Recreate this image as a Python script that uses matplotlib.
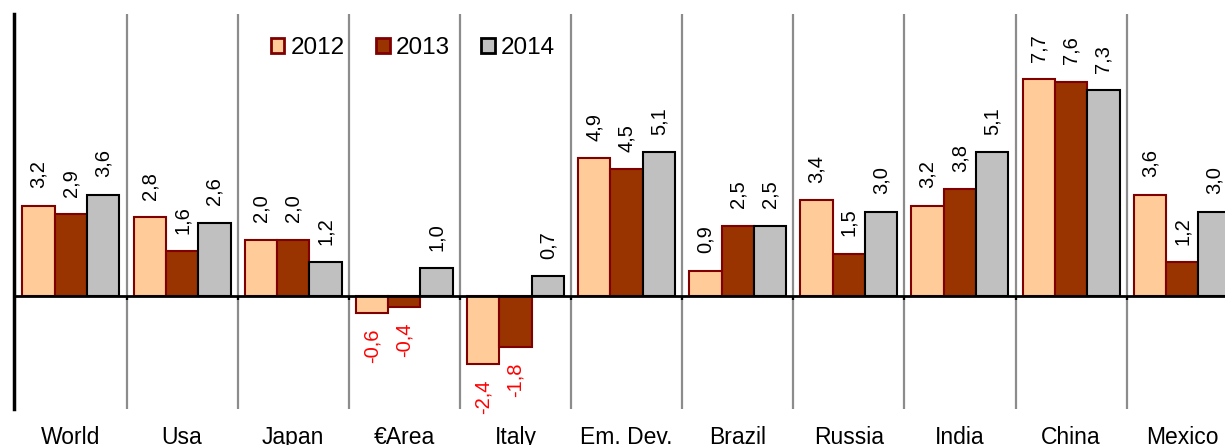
import matplotlib
matplotlib.use("Agg")
import matplotlib.pyplot as plt
from matplotlib.patches import Patch
import numpy as np

plt.rcParams['font.family'] = ['Liberation Sans', 'DejaVu Sans']

categories = ["World", "Usa", "Japan", "€Area", "Italy", "Em. Dev.", "Brazil",
              "Russia", "India", "China", "Mexico"]
years = ["2012", "2013", "2014"]
g2012 = [3.2, 2.8, 2.0, -0.6, -2.4, 4.9, 0.9, 3.4, 3.2, 7.7, 3.6]
g2013 = [2.9, 1.6, 2.0, -0.4, -1.8, 4.5, 2.5, 1.5, 3.8, 7.6, 1.2]
g2014 = [3.6, 2.6, 1.2, 1.0, 0.7, 5.1, 2.5, 3.0, 5.1, 7.3, 3.0]

series = [g2012, g2013, g2014]
fills = ["#FFCC99", "#993300", "#C0C0C0"]
edges = ["#800000", "#800000", "#000000"]

fig = plt.figure(figsize=(12.25, 4.45), dpi=100)
ax = fig.add_axes([14 / 1225, 1 - 409 / 445, 1 - 14 / 1225, (409 - 14) / 445])

x = np.arange(len(categories))
width = 0.291
offsets = [-width, 0.0, width]

for vals, off, fc, ec in zip(series, offsets, fills, edges):
    ax.bar(x + off, vals, width, color=fc, edgecolor=ec, linewidth=1.5, zorder=3)
    for xi, v in zip(x + off, vals):
        label = f"{v:.1f}".replace(".", ",")
        if v >= 0:
            ax.annotate(label, (xi, v), xytext=(0, 12.5), textcoords="offset points",
                        rotation=90, ha="center", va="bottom", fontsize=14.5,
                        color="black", zorder=4)
        else:
            ax.annotate(label, (xi, v), xytext=(0, -11), textcoords="offset points",
                        rotation=90, ha="center", va="top", fontsize=14.5,
                        color="#FF0000", zorder=4)

# category separators with small ticks under the zero line
for b in np.arange(0.5, len(categories) - 0.5, 1.0):
    ax.axvline(b, color="#8C8C8C", linewidth=1.6, zorder=1)
    ax.vlines(b, -0.15, 0, color="black", linewidth=1.6, zorder=5)

ax.axhline(0, color="black", linewidth=2.0, zorder=5)

unit = 111.13
ax.set_xlim(0.5 - 112.5 / unit, 0.5 + (1225 - 126.5) / unit)
ax.set_ylim(-4, 10)

ax.set_xticks(x)
ax.set_xticklabels(categories, fontsize=16.5)
ax.tick_params(axis="x", length=0, pad=12.5)
ax.set_yticks([])

for side in ["top", "right", "bottom"]:
    ax.spines[side].set_visible(False)
ax.spines["left"].set_linewidth(2.5)
ax.spines["left"].set_color("black")

handles = [Patch(facecolor=fc, edgecolor=ec, linewidth=2) for fc, ec in zip(fills, edges)]
ax.legend(handles, years, loc="center", bbox_to_anchor=(0.3295, 0.913), ncol=3,
          frameon=False, fontsize=17.5, handlelength=0.55, handleheight=0.55,
          handletextpad=0.25, columnspacing=1.3)

fig.savefig("out.png", dpi=100)
